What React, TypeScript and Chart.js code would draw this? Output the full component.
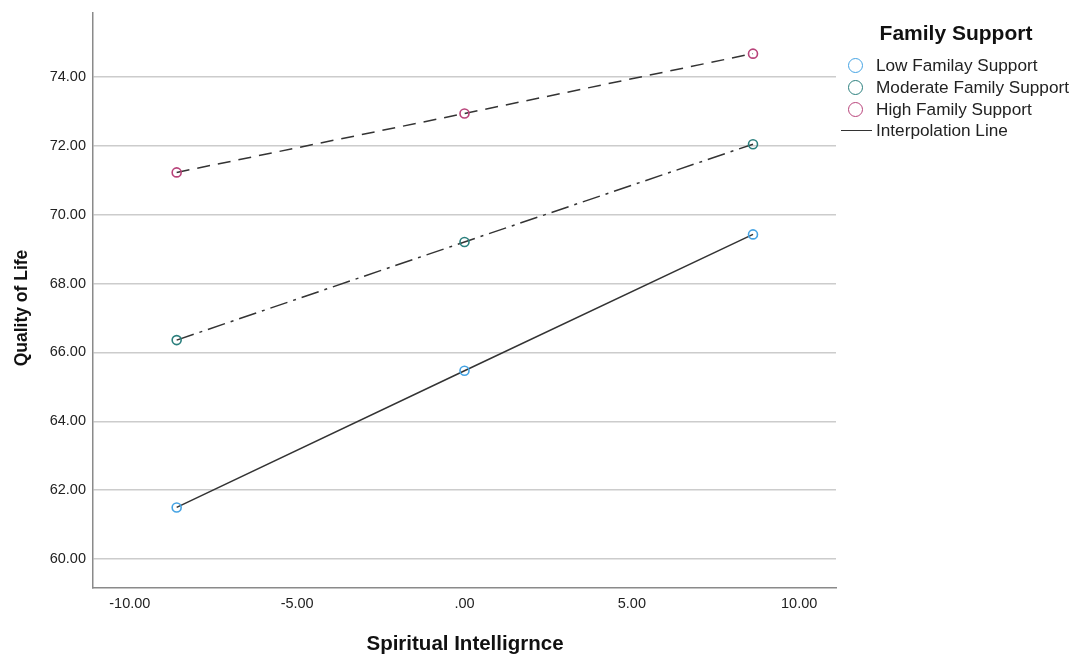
import React, { useEffect, useRef } from "react";
import { Chart, registerables } from "chart.js";

Chart.register(...registerables);

const groups = ["Low Familay Support", "Moderate Family Support", "High Family Support"];
const xValues = [-8.6, 0, 8.62];
const lowValues = [61.5, 65.47, 69.43];
const moderateValues = [66.36, 69.21, 72.05];
const highValues = [71.23, 72.94, 74.68];
const yTicks = [60, 62, 64, 66, 68, 70, 72, 74];
const xTicks = [-10, -5, 0, 5, 10];

const groupColors = ["#45a3e3", "#2b7f7d", "#b8437a"];
const dashes = [[], [18, 6, 3, 6], [13, 8]];

const FONT = "'Liberation Sans', Arial, Helvetica, sans-serif";

function fmt(v: number): string {
  if (v === 0) return ".00";
  return v.toFixed(2);
}

export default function App() {
  const ref = useRef<HTMLCanvasElement | null>(null);

  useEffect(() => {
    document.body.style.margin = "0";
    const series = [lowValues, moderateValues, highValues];
    const chart = new Chart(ref.current as HTMLCanvasElement, {
      type: "scatter",
      data: {
        datasets: series.map((vals, i) => ({
          label: groups[i],
          data: vals.map((y, j) => ({ x: xValues[j], y })),
          showLine: true,
          borderColor: "#333333",
          borderWidth: 1.5,
          borderDash: dashes[i],
          pointRadius: 4.5,
          pointBorderWidth: 1.6,
          pointBorderColor: groupColors[i],
          pointBackgroundColor: "rgba(255,255,255,0)",
          pointHoverRadius: 4.5,
        })),
      },
      options: {
        animation: false,
        responsive: false,
        events: [],
        layout: { padding: { top: 13, right: 240, left: 0, bottom: 0 } },
        plugins: { legend: { display: false }, tooltip: { enabled: false } },
        scales: {
          x: {
            type: "linear",
            min: -11.1,
            max: 11.1,
            afterBuildTicks: (s: any) => {
              s.ticks = xTicks.map((v) => ({ value: v }));
            },
            afterFit: (s: any) => {
              s.height = 70;
              s.paddingLeft = 0;
              s.paddingRight = 0;
            },
            grid: { display: false, drawTicks: false },
            border: { display: true, color: "#8a8a8a", width: 1.5 },
            ticks: {
              padding: 7,
              color: "#222",
              font: { family: FONT, size: 14.5 },
              callback: (v: any) => fmt(Number(v)),
              maxRotation: 0,
            },
            title: { display: false },
          },
          y: {
            type: "linear",
            min: 59.16,
            max: 75.86,
            afterBuildTicks: (s: any) => {
              s.ticks = yTicks.map((v) => ({ value: v }));
            },
            afterFit: (s: any) => {
              s.width = 93;
              s.paddingTop = 0;
              s.paddingBottom = 0;
            },
            grid: { display: true, drawTicks: false, color: "#cccccc", lineWidth: 1.5 },
            border: { display: true, color: "#8a8a8a", width: 1.5 },
            ticks: {
              padding: 7,
              color: "#222",
              font: { family: FONT, size: 14.5 },
              callback: (v: any) => fmt(Number(v)),
            },
            title: { display: false },
          },
        },
      },
    });
    return () => chart.destroy();
  }, []);

  const legendRowTop = [65, 87, 109, 130];
  const legendText: React.CSSProperties = {
    position: "absolute",
    left: 876,
    fontSize: 17.2,
    lineHeight: "22px",
    color: "#222",
    whiteSpace: "nowrap",
  };

  return (
    <div style={{ position: "fixed", left: 0, top: 0, width: 1076, height: 658, background: "#fff", fontFamily: FONT }}>
      <canvas ref={ref} width={1076} height={658} style={{ display: "block" }} />
      <div
        style={{
          position: "absolute",
          left: 265,
          width: 400,
          top: 630,
          textAlign: "center",
          fontWeight: "bold",
          fontSize: 20.5,
          lineHeight: "26px",
          color: "#111",
          whiteSpace: "nowrap",
        }}
      >
        Spiritual Intelligrnce
      </div>
      <div
        style={{
          position: "absolute",
          left: 20.5 - 100,
          top: 308 - 12,
          width: 200,
          height: 24,
          lineHeight: "24px",
          textAlign: "center",
          fontWeight: "bold",
          fontSize: 17.5,
          color: "#111",
          whiteSpace: "nowrap",
          transform: "rotate(-90deg)",
          transformOrigin: "50% 50%",
        }}
      >
        Quality of Life
      </div>
      <div
        style={{
          position: "absolute",
          left: 856,
          width: 200,
          top: 20,
          textAlign: "center",
          fontWeight: "bold",
          fontSize: 21,
          lineHeight: "26px",
          color: "#111",
          whiteSpace: "nowrap",
        }}
      >
        Family Support
      </div>
      {groups.map((g, i) => (
        <div key={g}>
          <div
            style={{
              position: "absolute",
              left: 847.5,
              top: legendRowTop[i] - 7.5,
              width: 13,
              height: 13,
              borderRadius: "50%",
              border: `1.5px solid ${groupColors[i]}`,
              boxSizing: "content-box",
            }}
          />
          <div style={{ ...legendText, top: legendRowTop[i] - 11 }}>{g}</div>
        </div>
      ))}
      <div
        style={{
          position: "absolute",
          left: 841,
          top: legendRowTop[3],
          width: 31,
          height: 0,
          borderTop: "1.5px solid #333",
        }}
      />
      <div style={{ ...legendText, top: legendRowTop[3] - 11 }}>Interpolation Line</div>
    </div>
  );
}
